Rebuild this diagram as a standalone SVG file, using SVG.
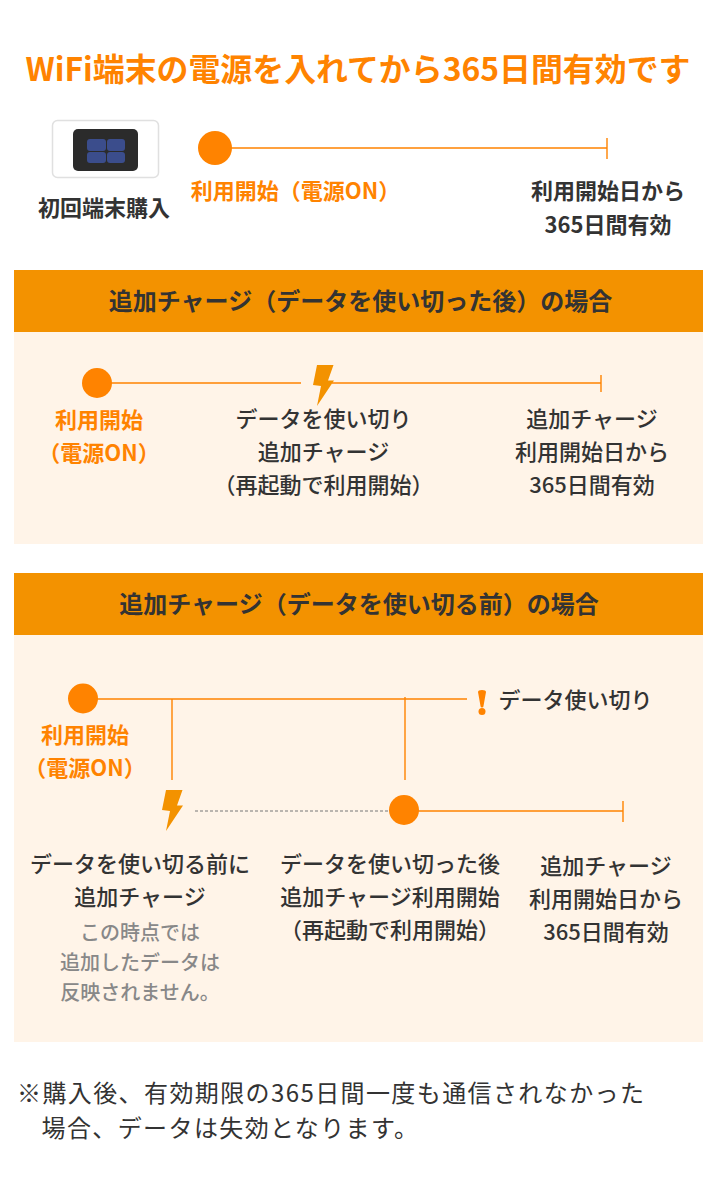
<svg xmlns="http://www.w3.org/2000/svg" width="719" height="1190" viewBox="0 0 719 1190">
<defs>
<style>
text{font-family:"Noto Sans CJK JP","Noto Sans",sans-serif;text-anchor:middle}
.o{fill:#ff8300;font-weight:700;font-size:22px}
.d{fill:#333;font-weight:500;font-size:22px}
.h{fill:#333;font-weight:700;font-size:24px}
.t{fill:#333;font-weight:700;font-size:22px}
.g{fill:#888;font-weight:500;font-size:20px}
.n{fill:#333;font-weight:400;font-size:24px;letter-spacing:1.400px;text-anchor:start}
.l{stroke:#ff8300;stroke-width:1.4;fill:none}
.c{fill:#ff8300}
.b{fill:#f39200}
.p{fill:#fff4e8}
</style>
<polygon id="bolt" points="4,0 20.500,0 15,15.500 21,15.500 4,41 8,21 0,20"/>
</defs>
<rect width="719" height="1190" fill="#fff"/>
<text id="title" x="358" y="81" style="fill:#ff8300;font-weight:700;font-size:31.900px">WiFi端末の電源を入れてから365日間有効です</text>

<g id="panel-1">
<rect class="b" x="14" y="270" width="689" height="62"/>
<rect class="p" x="14" y="332" width="689" height="212"/>
<text class="h" x="360.500" y="310">追加チャージ（データを使い切った後）の場合</text>
</g>
<g id="panel-2">
<rect class="b" x="14" y="573" width="689" height="62"/>
<rect class="p" x="14" y="635" width="689" height="407"/>
<text class="h" x="359" y="613">追加チャージ（データを使い切る前）の場合</text>
</g>

<g id="connectors">
<path class="l" d="M215 148H607M607 138V159"/>
<path class="l" d="M97 383H301M332 383H601M601 375V392"/>
<path class="l" d="M83 699H467M172 699V780M405 697V780"/>
<path d="M195 811H390" stroke="#777" stroke-width="1" stroke-dasharray="3 2" fill="none"/>
<path class="l" d="M404 811H623M623 801V822"/>
</g>

<g id="device">
<rect x="52.500" y="120.500" width="106" height="57" rx="5" fill="#fff" stroke="#e0e0e0" stroke-width="1.500"/>
<rect x="73" y="129" width="65" height="42" rx="5" fill="#2b2b2b"/>
<rect x="87" y="139" width="19" height="12" rx="3" fill="#3b4d8c"/>
<rect x="107" y="139" width="18" height="12" rx="3" fill="#3b4d8c"/>
<rect x="87" y="152" width="19" height="11" rx="3" fill="#3b4d8c"/>
<rect x="107" y="152" width="18" height="11" rx="3" fill="#3b4d8c"/>
<text class="t" x="104" y="216">初回端末購入</text>
</g>
<g id="start-top">
<circle class="c" cx="215" cy="148" r="17"/>
<text class="o" x="295.500" y="199">利用開始（電源ON）</text>
</g>
<g id="end-top">
<text class="t" x="608" y="199">利用開始日から</text>
<text class="t" x="608" y="233">365日間有効</text>
</g>

<g id="panel-1-start">
<circle class="c" cx="97" cy="383" r="15"/>
<text class="o" x="99" y="428">利用開始</text>
<text class="o" x="99" y="461">（電源ON）</text>
</g>
<g id="panel-1-charge">
<use href="#bolt" class="b" x="313" y="365"/>
<text class="d" x="323.500" y="427">データを使い切り</text>
<text class="d" x="323.500" y="460">追加チャージ</text>
<text class="d" x="323.500" y="493">（再起動で利用開始）</text>
</g>
<g id="panel-1-end">
<text class="d" x="592" y="427">追加チャージ</text>
<text class="d" x="592" y="460">利用開始日から</text>
<text class="d" x="592" y="493">365日間有効</text>
</g>

<g id="panel-2-start">
<circle class="c" cx="83" cy="698.500" r="15"/>
<text class="o" x="85" y="743">利用開始</text>
<text class="o" x="85" y="776">（電源ON）</text>
</g>
<g id="panel-2-exhausted">
<path class="c" d="M478 692a4 2 0 0 1 8 0L483.500 706a1.500 1.500 0 0 1-3 0Z"/>
<circle class="c" cx="482" cy="711.500" r="3.500"/>
<text class="d" x="575.500" y="708">データ使い切り</text>
</g>
<g id="panel-2-charge">
<use href="#bolt" class="b" x="162" y="790"/>
<text class="d" x="140" y="872">データを使い切る前に</text>
<text class="d" x="140" y="905">追加チャージ</text>
<text class="g" x="140" y="939.500">この時点では</text>
<text class="g" x="140" y="969.500">追加したデータは</text>
<text class="g" x="140" y="999.500">反映されません。</text>
</g>
<g id="panel-2-restart">
<circle class="c" cx="404" cy="810" r="15"/>
<text class="d" x="390" y="872">データを使い切った後</text>
<text class="d" x="390" y="905">追加チャージ利用開始</text>
<text class="d" x="390" y="938">（再起動で利用開始）</text>
</g>
<g id="panel-2-end">
<text class="d" x="606" y="874">追加チャージ</text>
<text class="d" x="606" y="907">利用開始日から</text>
<text class="d" x="606" y="940">365日間有効</text>
</g>
<g id="note">
<text class="n" x="17" y="1102">※購入後、有効期限の365日間一度も通信されなかった</text>
<text class="n" x="41.500" y="1137">場合、データは失効となります。</text>
</g>
</svg>
